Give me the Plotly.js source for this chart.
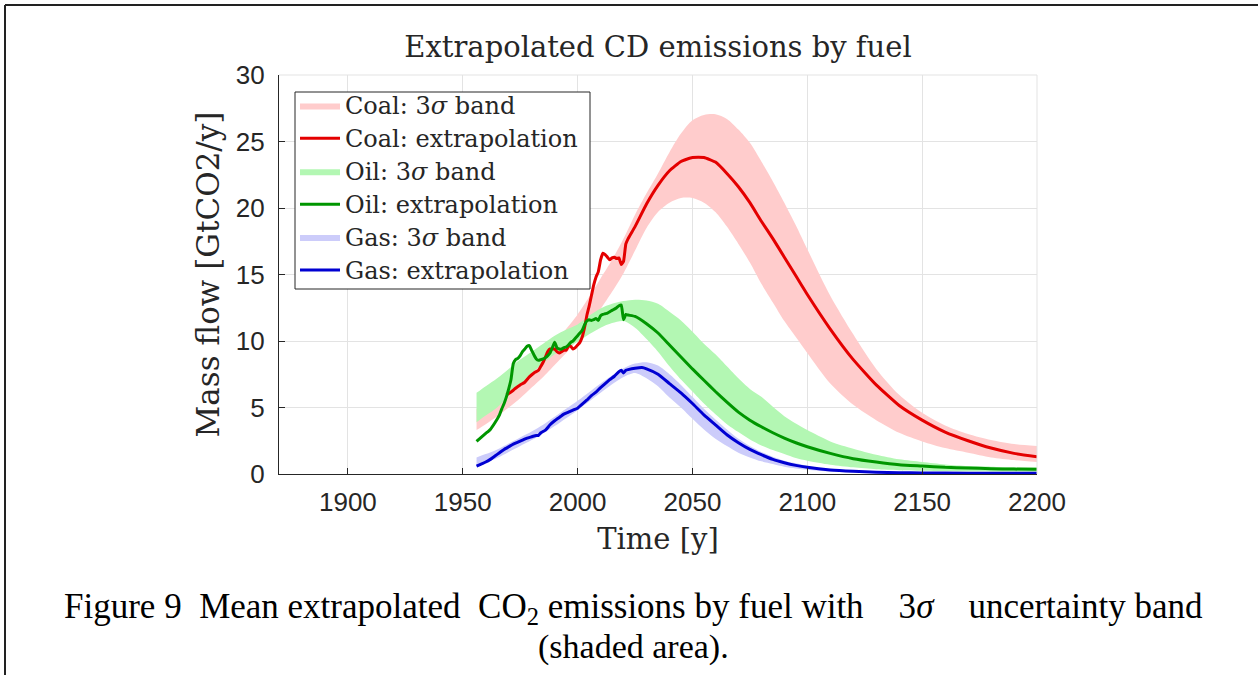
<!DOCTYPE html>
<html>
<head>
<meta charset="utf-8">
<script src="https://cdn.plot.ly/plotly-3.0.1.min.js"></script>
<style>html,body{margin:0;padding:0;background:#fff;}#chart{width:1258px;height:675px;}</style>
</head>
<body>
<div id="chart"></div>
<script>
// ---------------- data ----------------
const bandYears = [1956,1960,1965,1970,1975,1980,1985,1990,1995,2000,2005,2010,2015,2020,2025,2030,2035,2040,2045,2050,2055,2060,2065,2070,2075,2080,2085,2090,2095,2100,2110,2120,2130,2140,2150,2160,2170,2180,2190,2200];

const coalUpper = [4.9,5.35,5.95,6.6,7.3,8.1,9.0,9.9,10.9,12.0,13.3,14.7,16.1,17.7,19.5,21.1,22.6,24.2,25.6,26.6,27.0,27.05,26.7,25.9,24.9,23.5,22.0,20.4,18.7,16.9,13.4,10.5,7.9,5.95,4.6,3.65,3.0,2.55,2.25,2.1];
const coalLower = [3.3,3.75,4.35,5.0,5.7,6.5,7.3,8.2,9.1,10.1,11.2,12.4,13.7,15.1,16.8,18.5,19.7,20.4,20.75,20.75,20.4,19.7,18.6,17.3,15.9,14.3,12.9,11.5,10.3,9.1,6.8,5.2,4.05,3.1,2.45,1.95,1.6,1.25,1.05,0.9];

const oilUpper = [6.1,6.6,7.2,7.9,8.6,9.2,9.8,10.4,10.85,11.25,11.9,12.45,12.8,13.0,13.1,13.05,12.8,12.2,11.55,10.7,9.8,9.0,8.1,7.2,6.4,5.8,5.05,4.35,3.8,3.3,2.45,1.9,1.45,1.1,0.9,0.72,0.6,0.55,0.5,0.48];
const oilLower = [3.9,4.4,5.0,5.9,6.75,7.6,8.3,9.0,9.5,9.95,10.5,11.0,11.35,11.5,11.0,10.15,9.2,8.1,7.1,6.2,5.3,4.5,3.75,3.15,2.6,2.15,1.8,1.5,1.2,1.0,0.7,0.5,0.35,0.28,0.24,0.22,0.2,0.19,0.18,0.17];

const gasUpper = [1.25,1.5,1.85,2.3,2.75,3.2,3.7,4.3,4.9,5.5,6.15,6.8,7.4,7.95,8.3,8.4,8.15,7.5,6.7,5.8,4.9,4.1,3.35,2.65,2.1,1.65,1.3,1.0,0.8,0.6,0.35,0.22,0.15,0.11,0.09,0.08,0.07,0.065,0.06,0.06];
const gasLower = [0.6,0.85,1.2,1.65,2.1,2.55,3.05,3.6,4.2,4.8,5.45,6.1,6.75,7.3,7.6,7.2,6.6,5.75,5.0,4.15,3.35,2.65,2.1,1.6,1.25,0.95,0.75,0.55,0.42,0.32,0.18,0.12,0.09,0.07,0.05,0.045,0.04,0.035,0.03,0.03];

const coalYears = [1969,1970,1972,1973,1975,1977,1979,1981,1983,1984,1985,1986,1987,1988,1989,1990,1991,1992,1993,1994,1995,1996,1997,1998,1999,2000,2001,2002,2003,2004,2005,2006,2007,2008,2009,2010,2011,2012,2013,2014,2015,2016,2017,2018,2019,2020,2021,2022,2025,2030,2035,2040,2045,2050,2055,2060,2065,2070,2075,2080,2085,2090,2095,2100,2110,2120,2130,2140,2150,2160,2170,2180,2190,2200];
const coalLine = [5.95,6.05,6.3,6.45,6.7,6.9,7.3,7.6,7.8,8.1,8.4,8.8,9.2,9.4,9.4,9.4,9.2,9.1,9.2,9.3,9.3,9.6,9.6,9.4,9.5,9.7,9.9,10.3,11.0,11.9,12.6,13.4,14.2,14.8,15.2,16.1,16.6,16.5,16.3,16.1,16.25,16.3,16.2,16.25,15.75,16.0,17.3,17.7,18.6,20.3,21.7,22.8,23.5,23.8,23.8,23.45,22.6,21.6,20.4,19.0,17.7,16.3,14.9,13.5,10.9,8.6,6.7,5.15,4.05,3.15,2.5,1.95,1.55,1.3];

const oilYears = [1956,1958,1960,1962,1964,1966,1967,1968,1969,1970,1971,1972,1973,1974,1975,1976,1977,1978,1979,1980,1981,1982,1983,1984,1985,1986,1987,1988,1989,1990,1991,1992,1993,1994,1995,1996,1997,1998,1999,2000,2001,2002,2003,2004,2005,2006,2007,2008,2009,2010,2011,2012,2013,2014,2015,2016,2017,2018,2019,2020,2021,2022,2025,2030,2035,2040,2045,2050,2055,2060,2065,2070,2075,2080,2085,2090,2095,2100,2110,2120,2130,2140,2150,2160,2170,2180,2190,2200];
const oilLine = [2.45,2.75,3.05,3.35,3.85,4.45,4.9,5.3,5.8,6.4,7.1,8.3,8.6,8.7,8.9,9.2,9.4,9.6,9.65,9.3,8.95,8.65,8.55,8.6,8.65,8.75,8.9,9.1,9.5,9.9,9.5,9.4,9.4,9.5,9.55,9.7,9.9,10.0,10.2,10.4,10.6,10.8,11.2,11.5,11.6,11.55,11.6,11.7,11.55,11.9,12.0,12.05,12.1,12.2,12.3,12.4,12.5,12.65,12.7,11.6,12.0,11.95,11.85,11.3,10.6,9.7,8.8,7.9,7.05,6.2,5.4,4.65,4.05,3.55,3.1,2.7,2.35,2.05,1.55,1.15,0.9,0.7,0.6,0.5,0.45,0.4,0.37,0.35];

const gasYears = [1956,1958,1960,1962,1964,1966,1968,1970,1972,1974,1976,1978,1980,1982,1983,1984,1986,1988,1990,1992,1994,1996,1998,2000,2002,2004,2006,2008,2010,2012,2014,2016,2018,2019,2020,2021,2022,2025,2028,2030,2035,2040,2045,2050,2055,2060,2065,2070,2075,2080,2085,2090,2095,2100,2110,2120,2130,2140,2150,2170,2200];
const gasLine = [0.6,0.75,0.9,1.1,1.35,1.6,1.85,2.05,2.25,2.4,2.55,2.7,2.8,2.9,2.9,3.1,3.3,3.7,4.0,4.25,4.5,4.65,4.8,4.95,5.25,5.55,5.9,6.15,6.5,6.8,7.1,7.35,7.7,7.8,7.6,7.8,7.85,7.95,8.0,7.9,7.5,6.8,6.1,5.3,4.45,3.7,2.95,2.35,1.85,1.45,1.1,0.85,0.65,0.5,0.3,0.2,0.14,0.1,0.08,0.06,0.05];

const seriesNames = ['Coal: 3<i>σ</i> band','Coal: extrapolation','Oil: 3<i>σ</i> band','Oil: extrapolation','Gas: 3<i>σ</i> band','Gas: extrapolation'];
const xTicks = [1900,1950,2000,2050,2100,2150,2200];
const yTicks = [0,5,10,15,20,25,30];

// ---------------- layout helpers ----------------
const W = 1258, H = 675;
const ML = 279, MR = 1037, MT = 75, MB = 474;
const px = x => (x - ML) / (MR - ML);
const py = y => (MB - y) / (MB - MT);

const SERIF = '"DejaVu Serif", serif';
const TIMES = '"Liberation Serif", "Times New Roman", serif';
const SANS = '"Liberation Sans", Arial, sans-serif';
const INK = '#262626';
const legendLabel = s => '<span style="font-size:24px">' + s + '</span>';

function band(upper, lower, name, fill, rank) {
  return [
    {x: bandYears, y: lower, type: 'scatter', mode: 'lines', line: {width: 0, shape: 'spline', smoothing: 0.8},
     showlegend: false, hoverinfo: 'skip'},
    {x: bandYears, y: upper, type: 'scatter', mode: 'lines', line: {width: 0, shape: 'spline', smoothing: 0.8},
     fill: 'tonexty', fillcolor: fill, name: legendLabel(name), legendrank: rank}
  ];
}
function line(xs, ys, name, color, rank) {
  return {x: xs, y: ys, type: 'scatter', mode: 'lines', name: legendLabel(name), legendrank: rank,
          line: {color: color, width: 3, shape: 'spline', smoothing: 0.4}};
}

// opaque bands first, then the extrapolation lines on top
const data = [
  ...band(coalUpper, coalLower, seriesNames[0], 'rgb(255,204,204)', 1),
  ...band(oilUpper, oilLower, seriesNames[2], 'rgb(179,247,179)', 3),
  ...band(gasUpper, gasLower, seriesNames[4], 'rgb(204,204,250)', 5),
  line(coalYears, coalLine, seriesNames[1], 'rgb(228,0,0)', 2),
  line(oilYears, oilLine, seriesNames[3], 'rgb(0,150,0)', 4),
  line(gasYears, gasLine, seriesNames[5], 'rgb(0,0,210)', 6)
];

const layout = {
  width: W, height: H,
  margin: {l: ML, r: W - MR, t: MT, b: H - MB, pad: 0},
  paper_bgcolor: '#fff', plot_bgcolor: '#fff',
  showlegend: true,
  title: {text: 'Extrapolated CD emissions by fuel', font: {family: SERIF, size: 29, color: INK},
          xref: 'paper', x: 0.5, xanchor: 'center', yref: 'container', y: 1 - 47 / H, yanchor: 'middle'},
  xaxis: {
    range: [1870, 2200], tickvals: xTicks, ticktext: xTicks.map(String),
    showgrid: true, gridcolor: '#e3e3e3', gridwidth: 1,
    showline: true, linecolor: INK, linewidth: 1.2,
    ticks: 'inside', ticklen: 6, tickcolor: INK, tickwidth: 1,
    tickfont: {family: SANS, size: 26, color: INK}, ticklabelstandoff: 5,
    zeroline: false,
    title: {text: 'Time [y]', font: {family: SERIF, size: 29, color: INK}, standoff: 12}
  },
  yaxis: {
    range: [0, 30], tickvals: yTicks, ticktext: yTicks.map(String),
    showgrid: true, gridcolor: '#e3e3e3', gridwidth: 1,
    showline: true, linecolor: INK, linewidth: 1.2,
    ticks: 'inside', ticklen: 6, tickcolor: INK, tickwidth: 1,
    tickfont: {family: SANS, size: 26, color: INK}, ticklabelstandoff: 8,
    zeroline: false,
    title: {text: 'Mass flow [GtCO2/y]', font: {family: SERIF, size: 31, color: INK}, standoff: 6}
  },
  legend: {
    x: px(295), y: py(84), xanchor: 'left', yanchor: 'top',
    bgcolor: 'rgba(0,0,0,0)', borderwidth: 0,
    font: {family: SERIF, size: 23, color: INK},
    itemwidth: 40, traceorder: 'normal', tracegroupgap: 0
  },
  shapes: [
    // light top/right box edges
    {type: 'line', xref: 'paper', yref: 'paper', x0: 0, x1: 1, y0: 1, y1: 1, line: {color: '#e3e3e3', width: 1}},
    {type: 'line', xref: 'paper', yref: 'paper', x0: 1, x1: 1, y0: 0, y1: 1, line: {color: '#e3e3e3', width: 1}},
    // legend box
    {type: 'rect', xref: 'paper', yref: 'paper', x0: px(295), x1: px(590), y0: py(92), y1: py(289),
     fillcolor: '#fff', line: {color: INK, width: 1}, layer: 'above'},
    // outer page frame (top + left)
    {type: 'line', xref: 'paper', yref: 'paper', x0: px(5), x1: px(1258), y0: py(5), y1: py(5), line: {color: '#222', width: 2}},
    {type: 'line', xref: 'paper', yref: 'paper', x0: px(5), x1: px(5), y0: py(5), y1: py(675), line: {color: '#222', width: 2}}
  ],
  annotations: [
    {text: 'Figure 9  Mean extrapolated  CO<sub>2</sub> emissions by fuel with    3<i>σ</i>    uncertainty band',
     xref: 'paper', yref: 'paper', x: px(633), y: py(608), xanchor: 'center', yanchor: 'middle',
     showarrow: false, font: {family: TIMES, size: 35, color: '#000'}},
    {text: '(shaded area).', xref: 'paper', yref: 'paper', x: px(633), y: py(647), xanchor: 'center', yanchor: 'middle',
     showarrow: false, font: {family: TIMES, size: 34, color: '#000'}}
  ]
};

Plotly.newPlot('chart', data, layout, {displayModeBar: false, staticPlot: true});
</script>
</body>
</html>
